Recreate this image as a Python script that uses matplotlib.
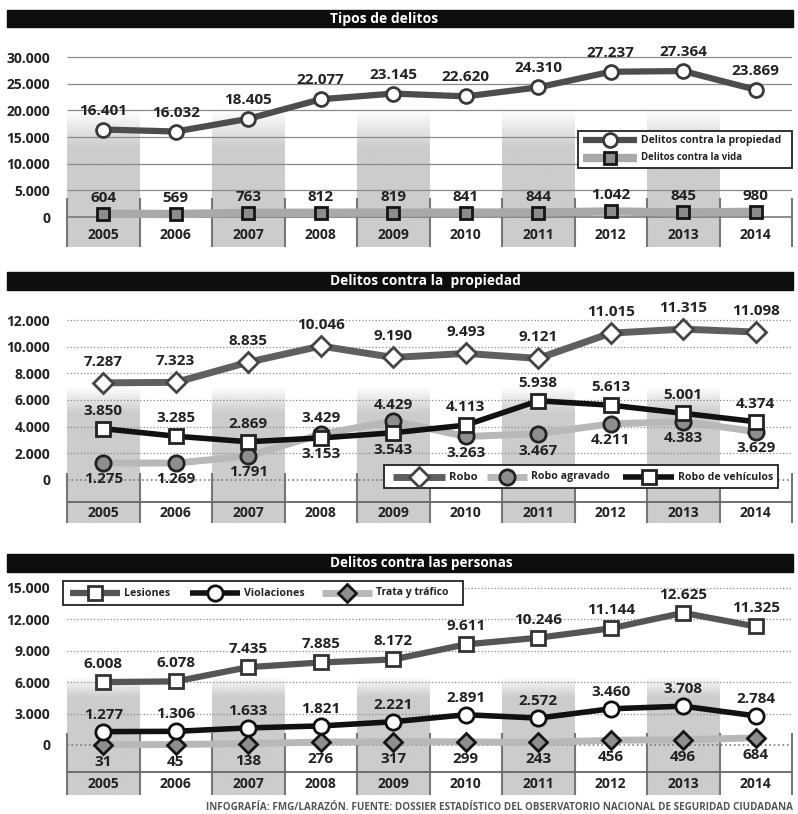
import numpy as np
import matplotlib.pyplot as plt
from matplotlib.patches import Rectangle

plt.rcParams['font.family'] = ['Open Sans', 'DejaVu Sans']

anios = ['2005', '2006', '2007', '2008', '2009', '2010', '2011', '2012', '2013', '2014']

# Tipos de delitos
propiedad = [16401, 16032, 18405, 22077, 23145, 22620, 24310, 27237, 27364, 23869]
vida = [604, 569, 763, 812, 819, 841, 844, 1042, 845, 980]

# Delitos contra la propiedad
robo = [7287, 7323, 8835, 10046, 9190, 9493, 9121, 11015, 11315, 11098]
robo_agravado = [1275, 1269, 1791, 3429, 4429, 3263, 3467, 4211, 4383, 3629]
robo_vehiculos = [3850, 3285, 2869, 3153, 3543, 4113, 5938, 5613, 5001, 4374]

# Delitos contra las personas
lesiones = [6008, 6078, 7435, 7885, 8172, 9611, 10246, 11144, 12625, 11325]
violaciones = [1277, 1306, 1633, 1821, 2221, 2891, 2572, 3460, 3708, 2784]
trata = [31, 45, 138, 276, 317, 299, 243, 456, 496, 684]

ticks_1 = [0, 5000, 10000, 15000, 20000, 25000, 30000]
ticks_2 = [0, 2000, 4000, 6000, 8000, 10000, 12000]
ticks_3 = [0, 3000, 6000, 9000, 12000, 15000]

W, H = 798, 814
fig = plt.figure(figsize=(W / 100, H / 100), dpi=100)
fig.patch.set_facecolor('white')
renderer = fig.canvas.get_renderer()


def fmt(v):
    return f'{v:,}'.replace(',', '.')


def caja(x0, y0, x1, y1):
    # caja en pixeles (origen arriba a la izquierda) -> coordenadas de figura
    return [x0 / W, 1 - y1 / H, (x1 - x0) / W, (y1 - y0) / H]


def ajustar(t, ancho):
    # reduce o amplia el texto hasta que ocupe el ancho dado en pixeles
    bb = t.get_window_extent(renderer)
    t.set_fontsize(t.get_fontsize() * ancho / bb.width)


def panel(top, bottom, ylim, ticks, sep_top, fila, y_anio, sombra, grid_ls):
    ax = fig.add_axes(caja(67, top, 792, bottom))
    for s in ax.spines.values():
        s.set_visible(False)
    ax.set_facecolor('none')
    ax.set_xticks([])
    ax.set_yticks(ticks)
    ax.set_yticklabels([fmt(t) for t in ticks], fontweight='bold', fontsize=10, color='#222')
    ax.tick_params(axis='y', length=0, pad=12)

    # columnas sombreadas con degradado
    n = 120
    ys = np.linspace(ylim[0], sombra[1], n)
    alpha = np.clip((sombra[1] - ys) / (sombra[1] - sombra[0]), 0, 1)
    img = np.ones((n, 1, 4))
    img[..., :3] = 0.80
    img[:, 0, 3] = alpha
    for i in range(0, 10, 2):
        ax.imshow(img, extent=[i - 0.5, i + 0.5, ylim[0], sombra[1]], origin='lower',
                  aspect='auto', zorder=0, interpolation='bilinear')

    # rejilla
    ax.hlines(ticks[1:], -0.5, 9.5, color='#8a8a8a', lw=0.9, ls=grid_ls, zorder=1)
    ax.hlines(0, -0.5, 9.5, color='#7a7a7a', lw=1.2, ls=grid_ls if fila is not None else '-', zorder=1)

    # tabla de años
    ax.vlines(np.arange(-0.5, 10), ylim[0], sep_top, color='#777', lw=1.5, zorder=1, clip_on=False)
    if fila is not None:
        ax.hlines(fila, -0.5, 9.5, color='#666', lw=1.3, zorder=1)
    for i, a in enumerate(anios):
        ax.text(i, y_anio, a, ha='center', va='center', fontsize=10, fontweight='bold', color='#222')

    ax.set_xlim(-0.5, 9.5)
    ax.set_ylim(*ylim)
    return ax


def serie(ax, vals, color, lw, marker, mfc, mec, ms, z):
    ax.plot(range(10), vals, color=color, lw=lw, solid_joinstyle='round', zorder=z)
    ax.plot(range(10), vals, ls='none', marker=marker, mfc=mfc, mec=mec, ms=ms, mew=2, zorder=z + 0.5)


def etiquetas(ax, vals, dy):
    if np.isscalar(dy):
        dy = [dy] * len(vals)
    for i, (v, d) in enumerate(zip(vals, dy)):
        ax.annotate(fmt(v), (i, v), xytext=(0, d), textcoords='offset pixels', ha='center',
                    va='center', fontsize=11, fontweight='bold', color='#222', zorder=6)


# --- Tipos de delitos ---
ax1 = panel(40, 247, (-5625, 33190), ticks_1, 3560, None, -3375, (13000, 20000), '-')
serie(ax1, vida, '#a9a9a9', 6, 's', '#8c8c8c', '#151515', 9, 3)
serie(ax1, propiedad, '#4d4d4d', 4.5, 'o', 'white', '#3a3a3a', 10, 4)
etiquetas(ax1, propiedad, 19)
etiquetas(ax1, vida, 16)

# --- Delitos contra la propiedad ---
ax2 = panel(300, 523, (-3225, 13500), ticks_2, 525, -1650, -2475, (5000, 7000), ':')
serie(ax2, robo_agravado, '#b8b8b8', 5, 'o', '#8e8e8e', '#222', 11, 3)
serie(ax2, robo_vehiculos, '#111111', 4, 's', 'white', '#222', 10, 4)
serie(ax2, robo, '#5f5f5f', 5, 'D', 'white', '#444', 10, 4)
etiquetas(ax2, robo, 21)
etiquetas(ax2, robo_vehiculos, [18, 18, 18, -16, -17, 18, 18, 18, 18, 18])
etiquetas(ax2, robo_agravado, [-16, -16, -16, 16, 16, -17, -17, -16, -16, -16])

# --- Delitos contra las personas ---
ax3 = panel(578, 795, (-4777, 15955), ticks_3, 1146, -2580, -3725, (4500, 6500), ':')
serie(ax3, trata, '#b8b8b8', 5, 'D', '#8e8e8e', '#151515', 9, 3)
serie(ax3, lesiones, '#555555', 4.5, 's', 'white', '#333', 10, 4)
serie(ax3, violaciones, '#111111', 4, 'o', 'white', '#111', 11, 4)
etiquetas(ax3, lesiones, 18)
etiquetas(ax3, violaciones, 17)
etiquetas(ax3, trata, -17)

# --- capa superior: barras de título, leyendas y pie ---
ov = fig.add_axes([0, 0, 1, 1], zorder=10)
ov.set_xlim(0, W)
ov.set_ylim(H, 0)
ov.axis('off')

for y0, y1, titulo, ancho in [(10, 27, 'Tipos de delitos', 107),
                              (272, 290, 'Delitos contra la  propiedad', 190),
                              (554, 572, 'Delitos contra las personas', 183)]:
    ov.add_patch(Rectangle((7, y0), 786, y1 - y0, color='#0d0d0d'))
    t = ov.text(330, (y0 + y1) / 2 + 0.5, titulo, color='white', fontsize=9, fontweight='bold',
                ha='left', va='center')
    ajustar(t, ancho)


def leyenda(x0, y0, x1, y1, items):
    ov.add_patch(Rectangle((x0, y0), x1 - x0, y1 - y0, facecolor='white', edgecolor='#222', lw=1.3))
    for (xa, xb, y, texto, ancho, color, lw, marker, mfc, mec, ms) in items:
        ov.plot([xa, xb], [y, y], color=color, lw=lw, solid_capstyle='butt')
        ov.plot([(xa + xb) / 2], [y], marker=marker, mfc=mfc, mec=mec, ms=ms, mew=2)
        t = ov.text(xb + 4, y, texto, fontsize=8, fontweight='bold', fontstretch='condensed',
                    ha='left', va='center', color='#222')
        ajustar(t, ancho)


leyenda(578, 131, 792, 168, [
    (583, 637, 140, 'Delitos contra la propiedad', 141, '#4d4d4d', 4.5, 'o', 'white', '#3a3a3a', 10),
    (583, 637, 158, 'Delitos contra la vida', 101, '#a9a9a9', 6, 's', '#8c8c8c', '#151515', 9),
])
leyenda(384, 465, 778, 488, [
    (393, 445, 477, 'Robo', 29, '#5f5f5f', 5, 'D', 'white', '#444', 10),
    (487, 527, 477, 'Robo agravado', 78, '#b8b8b8', 5, 'o', '#8e8e8e', '#222', 11),
    (623, 674, 477, 'Robo de vehículos', 95, '#111111', 4, 's', 'white', '#222', 10),
])
leyenda(63, 581, 463, 605, [
    (70, 120, 593, 'Lesiones', 46, '#555555', 4.5, 's', 'white', '#333', 10),
    (190, 240, 593, 'Violaciones', 60, '#111111', 4, 'o', 'white', '#111', 11),
    (322, 372, 593, 'Trata y tráfico', 73, '#b8b8b8', 5, 'D', '#8e8e8e', '#151515', 9),
])

pie = ov.text(793, 808, 'INFOGRAFÍA: FMG/LARAZÓN. FUENTE: DOSSIER ESTADÍSTICO DEL OBSERVATORIO '
              'NACIONAL DE SEGURIDAD CIUDADANA', fontsize=7, fontweight='bold',
              fontstretch='condensed', color='#555', ha='right', va='center')
ajustar(pie, 585)

fig.savefig('out.png', dpi=100)
